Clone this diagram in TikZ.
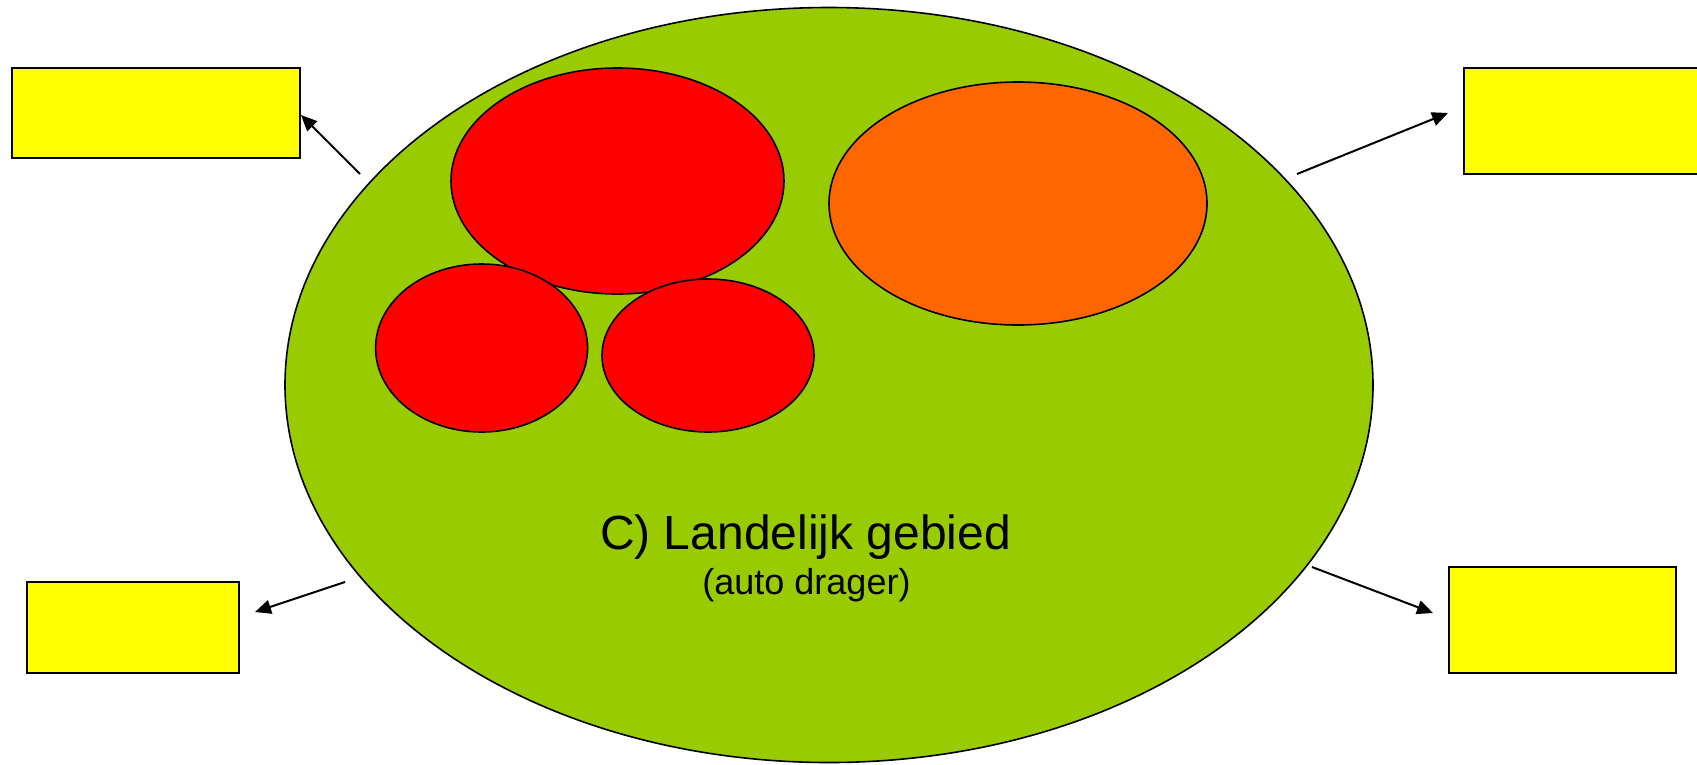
\documentclass[tikz,border=0pt]{standalone}
\usepackage{fontspec}
\setmainfont{Liberation Sans}
\usetikzlibrary{shapes.geometric,arrows.meta}
\definecolor{landgreen}{HTML}{99CC00}
\definecolor{cityred}{HTML}{FF0000}
\definecolor{cityorange}{HTML}{FF6600}
\definecolor{boxyellow}{HTML}{FFFF00}
\begin{document}
\begin{tikzpicture}[x=1pt,y=-1pt,
  blob/.style={ellipse,draw=black,line width=1.6pt,inner sep=0pt,outer sep=0pt},
  ybox/.style={rectangle,draw=black,line width=2pt,fill=boxyellow,inner sep=0pt,outer sep=0pt},
  conn/.style={draw=black,line width=2pt,-{Triangle[length=16pt,width=14pt]}}]
\useasboundingbox (0,0) rectangle (1697,764);
\fill[white] (0,0) rectangle (1697,764);
% green area
\node[blob,fill=landgreen,minimum width=1088pt,minimum height=755pt] (land) at (829,385) {};
% red and orange cores
\node[blob,fill=cityred,minimum width=333pt,minimum height=226pt] (bigred) at (617.5,181) {};
\node[blob,fill=cityorange,minimum width=378pt,minimum height=243pt] (orange) at (1018,203.5) {};
\node[blob,fill=cityred,minimum width=212pt,minimum height=168pt] (redleft) at (481.6,348) {};
\node[blob,fill=cityred,minimum width=212pt,minimum height=153pt] (redmid) at (708,355.5) {};
% text
\node[anchor=base,inner sep=0pt,font=\fontsize{48pt}{56pt}\selectfont] (title) at (805.5,549) {C) Landelijk gebied};
\node[anchor=base,inner sep=0pt,font=\fontsize{36pt}{42pt}\selectfont] (sub) at (806.5,594) {(auto drager)};
% yellow boxes
\node[ybox,minimum width=288pt,minimum height=90pt] (tl) at (156,113) {};
\node[ybox,minimum width=250pt,minimum height=106pt] (tr) at (1589,121) {};
\node[ybox,minimum width=212pt,minimum height=91pt] (bl) at (133,627.5) {};
\node[ybox,minimum width=227pt,minimum height=106pt] (br) at (1562.5,620) {};
% connectors
\coordinate (stl) at (360,174);
\coordinate (str) at (1297,174);
\coordinate (sbl) at (345,582);
\coordinate (sbr) at (1312,567);
\coordinate (etl) at (301,115);
\coordinate (etr) at (1448,113);
\coordinate (ebl) at (255,612);
\coordinate (ebr) at (1433,613);
\draw[conn] (stl) -- (etl);
\draw[conn] (str) -- (etr);
\draw[conn] (sbl) -- (ebl);
\draw[conn] (sbr) -- (ebr);
\end{tikzpicture}
\end{document}
